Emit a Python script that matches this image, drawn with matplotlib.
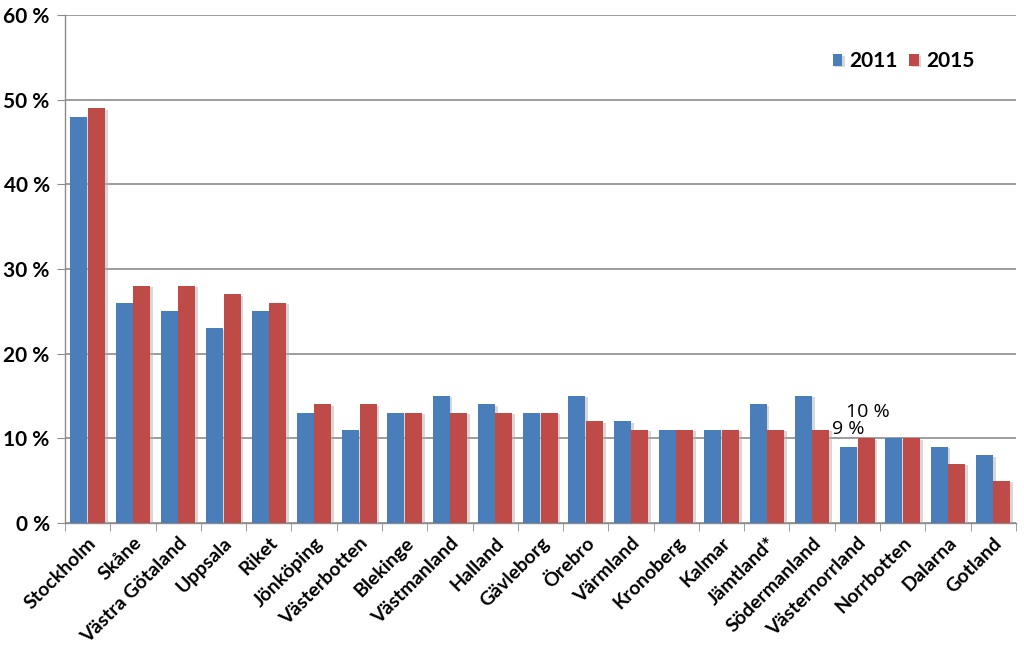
import matplotlib
matplotlib.use("Agg")
import matplotlib.pyplot as plt
import numpy as np
from matplotlib.ticker import MultipleLocator, FuncFormatter
import matplotlib.patheffects as pe

categories = ["Stockholm", "Skåne", "Västra Götaland", "Uppsala", "Riket", "Jönköping",
              "Västerbotten", "Blekinge", "Västmanland", "Halland", "Gävleborg", "Örebro",
              "Värmland", "Kronoberg", "Kalmar", "Jämtland*", "Södermanland",
              "Västernorrland", "Norrbotten", "Dalarna", "Gotland"]
v2011 = [48, 26, 25, 23, 25, 13, 11, 13, 15, 14, 13, 15, 12, 11, 11, 14, 15, 9, 10, 9, 8]
v2015 = [49, 28, 28, 27, 26, 14, 14, 13, 13, 13, 13, 12, 11, 11, 11, 11, 11, 10, 10, 7, 5]
series_names = ["2011", "2015"]
labelled = "Västernorrland"

c2011 = "#4a7ebb"
c2015 = "#be4b48"

plt.rcParams['font.family'] = ['Lato', 'DejaVu Sans']
fig = plt.figure(figsize=(10.24, 6.55), dpi=100)
ax = fig.add_axes([0.0635, 0.2015, 0.9285, 0.7755])

x = np.arange(len(categories))
w = 0.375
gap = 0.01
shadow = [pe.SimplePatchShadow(offset=(2, -1), shadow_rgbFace='#b0b0b0', alpha=0.5), pe.Normal()]
b1 = ax.bar(x - w / 2 - gap / 2, v2011, w, color=c2011, label=series_names[0], zorder=3,
            path_effects=shadow)
b2 = ax.bar(x + w / 2 + gap / 2, v2015, w, color=c2015, label=series_names[1], zorder=3,
            path_effects=shadow)

i = categories.index(labelled)
ax.text(x[i] - w / 2 - gap / 2, v2011[i] + 1.0, f"{v2011[i]} %", ha='center', va='bottom',
        fontsize=14, family=['Open Sans', 'DejaVu Sans'], zorder=5)
ax.text(x[i] + w / 2 + gap / 2 + 0.05, v2015[i] + 2.0, f"{v2015[i]} %", ha='center', va='bottom',
        fontsize=14, family=['Open Sans', 'DejaVu Sans'], zorder=5)

ax.set_xlim(-0.5, len(categories) - 0.5)
ax.set_ylim(0, 60)
ax.yaxis.set_major_locator(MultipleLocator(10))
ax.yaxis.set_major_formatter(FuncFormatter(lambda v, p: f"{int(v)} %"))
ax.grid(axis='y', color='#8c8c8c', linewidth=1.2, zorder=0)
ax.set_axisbelow(True)
for s in ['top', 'right']:
    ax.spines[s].set_visible(False)
for s in ['left', 'bottom']:
    ax.spines[s].set_color('#8c8c8c')
    ax.spines[s].set_linewidth(1.0)

ax.set_xticks(x)
ax.set_xticklabels(categories, rotation=45, ha='right', rotation_mode='anchor',
                   fontsize=14, fontweight='bold')
ax.tick_params(axis='x', length=0, pad=8)
ax.set_xticks(np.arange(len(categories) + 1) - 0.5, minor=True)
ax.tick_params(axis='x', which='minor', length=6, color='#8c8c8c', direction='out')
ax.tick_params(axis='y', length=6, color='#8c8c8c', direction='out', pad=5)
for lab in ax.get_yticklabels():
    lab.set_fontsize(15)
    lab.set_fontweight('bold')

leg = ax.legend(loc='upper right', bbox_to_anchor=(0.965, 0.945), frameon=False, ncol=2,
                prop={'size': 15, 'weight': 'bold'}, handlelength=0.45, handleheight=0.45,
                handletextpad=0.35, columnspacing=0.55, borderaxespad=0)

fig.savefig("out.png", dpi=100)
